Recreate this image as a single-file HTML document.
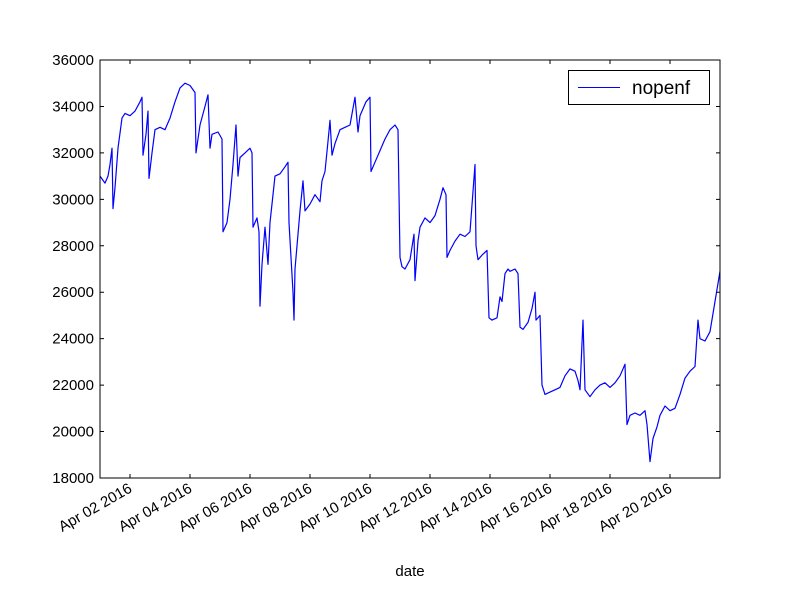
<!DOCTYPE html>
<html><head><meta charset="utf-8"><style>
body{margin:0;background:#fff;}
svg{font-family:"Liberation Sans","DejaVu Sans",sans-serif;}
</style></head><body>
<svg id="chart" width="800" height="600" xmlns="http://www.w3.org/2000/svg">
<rect width="800" height="600" fill="#fff"/>
<g id="plot"></g>
</svg>
<script>
// hours since Apr 01 2016 00:00
const hours=[0,4,6.4,8,9.6,10.4,12,14.4,17.6,20,24,28,32,33.6,34.4,36.8,38.4,39.2,41.6,44,48,52,56,60,64,68,72,76,76.8,80,84,86.4,88,89.6,94.4,97.6,98.4,101.6,104,106.4,108.8,110.4,112,116,120,121.6,122.4,125.6,127.2,128,129.6,132,134.4,136,137.6,140,144,148,150.4,151.2,152.8,154.4,155.2,156,160,162.4,164,168,172,176,177.6,180,182.4,184,185.6,188,192,196,200,204,206.4,208,212.8,216,216.8,220,224,228,232,236,238.4,240,241.6,244,248,251.2,252,254.4,256,260,264,268,272,274.4,276.8,277.6,280,284,288,292,296,300,300.8,302.4,305.6,309.6,311.2,313.6,317.6,320,321.6,324,326.4,328,332,334.4,336,338.4,342.4,345.6,348,348.8,352,353.6,356,360,364,368,372,376,380,382.4,384,386.4,388,392,396,400,404,408,412,416,420,421.6,424,428,432,436,437.6,440,442.4,445.6,448,452,456,460,464,468,472,476,478.4,480,484,488,492,496];
const values=[31000,30700,31000,31500,32200,29600,30500,32200,33500,33700,33600,33800,34200,34400,31900,32800,33800,30900,32000,33000,33100,33000,33500,34200,34800,35000,34900,34600,32000,33200,34000,34500,32200,32800,32900,32600,28600,29000,30000,31500,33200,31000,31800,32000,32200,32000,28800,29200,28600,25400,27200,28800,27200,29000,29800,31000,31100,31400,31600,29000,27500,26000,24800,27000,29500,30800,29500,29800,30200,29900,30800,31200,32500,33400,31900,32400,33000,33100,33200,34400,32900,33600,34200,34400,31200,31600,32100,32600,33000,33200,33000,27500,27100,27000,27400,28500,26500,28200,28800,29200,29000,29300,30000,30500,30200,27500,27800,28200,28500,28400,28600,31500,28000,27400,27600,27800,24900,24800,24900,25800,25600,26800,27000,26900,27000,26800,24500,24400,24700,25300,26000,24800,25000,22000,21600,21700,21800,21900,22400,22700,22600,22200,21800,24800,21800,21500,21800,22000,22100,21900,22100,22400,22900,20300,20700,20800,20700,20900,20300,18700,19700,20200,20700,21100,20900,21000,21600,22300,22600,22800,24800,24000,23900,24300,25600,26900];
const yTicks=[18000,20000,22000,24000,26000,28000,30000,32000,34000,36000];
const xTickDays=[1,3,5,7,9,11,13,15,17,19];
const xTickLabels=["Apr 02 2016","Apr 04 2016","Apr 06 2016","Apr 08 2016","Apr 10 2016","Apr 12 2016","Apr 14 2016","Apr 16 2016","Apr 18 2016","Apr 20 2016"];

const L=100,R=720,T=60,B=478,NS="http://www.w3.org/2000/svg";
const xH=h=>L+h*(30/24), xD=d=>L+d*30;
const y=v=>B-(v-18000)/18000*(B-T);
const g=document.getElementById('plot');
function mk(t,a,txt){const e=document.createElementNS(NS,t);for(const k in a)e.setAttribute(k,a[k]);if(txt!==undefined)e.textContent=txt;g.appendChild(e);return e;}

// series
let d="";hours.forEach((h,i)=>{d+=(i?"L":"M")+xH(h).toFixed(1)+","+y(values[i]).toFixed(1);});
const line=mk('path',{d:d,fill:'none',stroke:'#0000ff','stroke-width':1.2,'stroke-linejoin':'round'});



// y ticks
yTicks.forEach(v=>{
 const t1=mk('path',{d:`M${L},${y(v)}h4M${R},${y(v)}h-4`,stroke:'#000'});
 
 
 const t=mk('text',{x:L-6,y:y(v)+5,'text-anchor':'end','font-size':15},v);
 
 
});
// x ticks
xTickDays.forEach((dd,i)=>{
 const x=xD(dd);
 const t1=mk('path',{d:`M${x},${B}v-4M${x},${T}v4`,stroke:'#000'});
 
 
 const t=mk('text',{x:x,y:B+14,'text-anchor':'end','font-size':15,transform:`rotate(-30 ${x} ${B+8})`},xTickLabels[i]);
 
 
});
const fr=mk('rect',{x:L,y:T,width:R-L,height:B-T,fill:'none',stroke:'#000'});


const xl=mk('text',{x:410,y:576,'text-anchor':'middle','font-size':15},'date');


// legend
const lg=mk('rect',{x:568.5,y:70.5,width:141,height:34,fill:'#fff',stroke:'#000'});


const ll=mk('path',{d:'M578,87.5h42',stroke:'#0000ff'});


const lt=mk('text',{x:632,y:94,'font-size':19},'nopenf');


</script>
</body></html>
